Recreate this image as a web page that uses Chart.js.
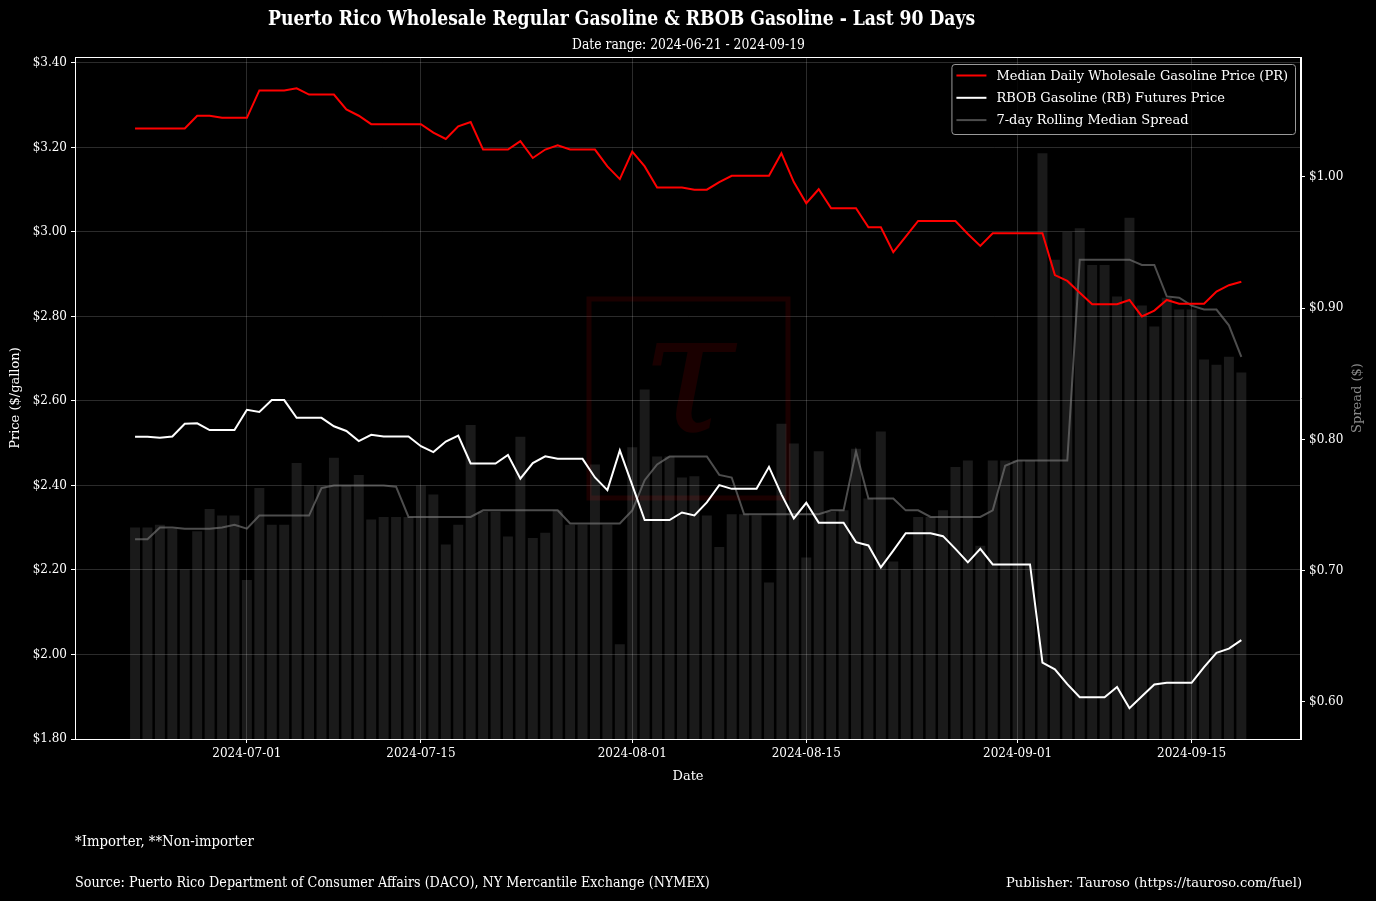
<!DOCTYPE html>
<html lang="en">
<head>
    <meta charset="UTF-8">
    <title>Puerto Rico Wholesale Gasoline vs RBOB</title>
    <script src="https://cdn.jsdelivr.net/npm/chart.js@4.4.1/dist/chart.umd.min.js"></script>
    <style>
        html, body { margin: 0; padding: 0; background: #000; }
        body { width: 1376px; height: 901px; position: relative; overflow: hidden; font-family: "DejaVu Serif", serif; color: #fff; }
        #chartBox { position: absolute; left: 0; top: 0; width: 1376px; height: 901px; }
        .txt { position: absolute; white-space: nowrap; line-height: 1; transform-origin: left center; }
        #title { font-weight: bold; font-size: 20px; }
        #subtitle { font-size: 14px; }
        .foot { font-size: 15px; }
        #publisher { font-size: 13px; }
    </style>
</head>
<body>
    <div id="chartBox"><canvas id="spreadChart" width="1376" height="901"></canvas></div>
    <div class="txt" id="title" data-x="268" data-y="18" data-w="707">Puerto Rico Wholesale Regular Gasoline &amp; RBOB Gasoline - Last 90 Days</div>
    <div class="txt" id="subtitle" data-x="572" data-y="44" data-w="233">Date range: 2024-06-21 - 2024-09-19</div>
    <div class="txt foot" data-x="75" data-y="841" data-w="179">*Importer, **Non-importer</div>
    <div class="txt foot" data-x="75" data-y="882" data-w="635">Source: Puerto Rico Department of Consumer Affairs (DACO), NY Mercantile Exchange (NYMEX)</div>
    <div class="txt" id="publisher" data-x="1006" data-y="882" data-w="296">Publisher: Tauroso (https://tauroso.com/fuel)</div>

    <script>
        // first day shown and number of daily points
        const firstDate = "2024-06-22";
        const dayCount = 90;
        const xTickDates = ["2024-07-01", "2024-07-15", "2024-08-01", "2024-08-15", "2024-09-01", "2024-09-15"];
        const priceTicks = [1.8, 2.0, 2.2, 2.4, 2.6, 2.8, 3.0, 3.2, 3.4];
        const spreadTicks = [0.6, 0.7, 0.8, 0.9, 1.0];

        // Median daily wholesale price, PR ($/gal)
        const prPrice = [
            3.245, 3.245, 3.245, 3.245, 3.245, 3.275, 3.275, 3.270, 3.270, 3.270,
            3.335, 3.335, 3.335, 3.340, 3.325, 3.325, 3.325, 3.290, 3.275, 3.255,
            3.255, 3.255, 3.255, 3.255, 3.235, 3.220, 3.250, 3.260, 3.195, 3.195,
            3.195, 3.215, 3.175, 3.195, 3.205, 3.195, 3.195, 3.195, 3.155, 3.125,
            3.190, 3.155, 3.105, 3.105, 3.105, 3.100, 3.100, 3.118, 3.133, 3.133,
            3.133, 3.133, 3.186, 3.118, 3.068, 3.101, 3.056, 3.056, 3.056, 3.011,
            3.011, 2.952, 2.989, 3.026, 3.026, 3.026, 3.026, 2.995, 2.967, 2.997,
            2.997, 2.997, 2.997, 2.997, 2.898, 2.884, 2.856, 2.829, 2.829, 2.829,
            2.839, 2.800, 2.814, 2.839, 2.830, 2.830, 2.830, 2.859, 2.874, 2.882
        ];

        // RBOB futures ($/gal)
        const rbobPrice = [
            2.515, 2.515, 2.513, 2.516, 2.546, 2.547, 2.531, 2.531, 2.531, 2.579,
            2.574, 2.602, 2.602, 2.560, 2.560, 2.560, 2.540, 2.529, 2.505, 2.520,
            2.516, 2.516, 2.516, 2.493, 2.479, 2.504, 2.518, 2.452, 2.452, 2.452,
            2.472, 2.416, 2.453, 2.469, 2.463, 2.463, 2.463, 2.419, 2.389, 2.483,
            2.401, 2.318, 2.318, 2.318, 2.336, 2.329, 2.360, 2.401, 2.392, 2.392,
            2.392, 2.444, 2.379, 2.322, 2.359, 2.312, 2.312, 2.312, 2.266, 2.258,
            2.206, 2.246, 2.287, 2.287, 2.287, 2.280, 2.250, 2.218, 2.250, 2.213,
            2.213, 2.213, 2.213, 1.981, 1.965, 1.930, 1.899, 1.899, 1.899, 1.923,
            1.873, 1.901, 1.929, 1.933, 1.933, 1.933, 1.970, 2.004, 2.014, 2.034
        ];

        // daily spread bars ($)
        const dailySpread = [
            0.733, 0.733, 0.735, 0.732, 0.701, 0.730, 0.747, 0.742, 0.742, 0.693,
            0.763, 0.735, 0.735, 0.782, 0.765, 0.765, 0.786, 0.765, 0.773, 0.739,
            0.741, 0.741, 0.741, 0.765, 0.758, 0.720, 0.735, 0.811, 0.745, 0.745,
            0.726, 0.802, 0.725, 0.729, 0.746, 0.735, 0.735, 0.781, 0.735, 0.644,
            0.794, 0.838, 0.787, 0.787, 0.771, 0.772, 0.742, 0.718, 0.743, 0.743,
            0.742, 0.691, 0.812, 0.797, 0.710, 0.791, 0.745, 0.746, 0.793, 0.755,
            0.806, 0.707, 0.701, 0.741, 0.741, 0.746, 0.779, 0.784, 0.719, 0.784,
            0.784, 0.784, 0.784, 1.018, 0.937, 0.958, 0.961, 0.933, 0.933, 0.909,
            0.969, 0.902, 0.886, 0.908, 0.899, 0.899, 0.861, 0.857, 0.863, 0.851
        ];

        // 7-day rolling median spread ($)
        const rollingSpread = [
            0.724, 0.724, 0.733, 0.733, 0.732, 0.732, 0.732, 0.733, 0.735, 0.732,
            0.742, 0.742, 0.742, 0.742, 0.742, 0.763, 0.765, 0.765, 0.765, 0.765,
            0.765, 0.764, 0.741, 0.741, 0.741, 0.741, 0.741, 0.741, 0.746, 0.746,
            0.746, 0.746, 0.746, 0.746, 0.746, 0.736, 0.736, 0.736, 0.736, 0.736,
            0.746, 0.769, 0.781, 0.787, 0.787, 0.787, 0.787, 0.773, 0.771, 0.743,
            0.743, 0.743, 0.743, 0.743, 0.743, 0.743, 0.746, 0.746, 0.791, 0.755,
            0.755, 0.755, 0.746, 0.746, 0.741, 0.741, 0.741, 0.741, 0.741, 0.746,
            0.780, 0.784, 0.784, 0.784, 0.784, 0.784, 0.937, 0.937, 0.937, 0.937,
            0.937, 0.933, 0.933, 0.909, 0.908, 0.902, 0.899, 0.899, 0.887, 0.863
        ];

        const DAY = 86400000;
        function dayNum(s) {
            const p = s.split("-").map(Number);
            return Date.UTC(p[0], p[1] - 1, p[2]) / DAY;
        }
        function dayLabel(n) {
            return new Date(Math.round(n) * DAY).toISOString().slice(0, 10);
        }

        const day0 = dayNum(firstDate);
        const xs = [];
        for (let i = 0; i < dayCount; i++) xs.push(day0 + i);
        const pts = arr => arr.map((v, i) => ({ x: xs[i], y: v }));

        const gridColor = "rgba(255,255,255,0.17)";
        const fontFamily = "'DejaVu Serif', serif";

        // frame, watermark, right axis title and legend drawn on canvas
        const decor = {
            id: "decor",
            beforeDatasetsDraw(chart) {
                const { ctx, chartArea: a } = chart;
                const cx = (a.left + a.right) / 2, cy = (a.top + a.bottom) / 2;
                ctx.save();
                ctx.strokeStyle = "rgba(255,0,0,0.1)";
                ctx.lineWidth = 5;
                ctx.strokeRect(cx - 99, cy - 99, 199, 199);
                ctx.fillStyle = "rgba(255,0,0,0.1)";
                ctx.font = "italic 170px 'DejaVu Serif', serif";
                ctx.textAlign = "center";
                ctx.textBaseline = "middle";
                ctx.fillText("\u03C4", cx, cy - 10);
                ctx.restore();
            },
            afterDraw(chart) {
                const { ctx, chartArea: a } = chart;
                ctx.save();
                ctx.strokeStyle = "#fff";
                ctx.lineWidth = 1;
                ctx.strokeRect(a.left + 0.5, a.top + 0.5, a.right - a.left - 1, a.bottom - a.top);

                // right axis title, reading upward like the left one
                ctx.save();
                ctx.translate(a.right + 57, (a.top + a.bottom) / 2);
                ctx.rotate(-Math.PI / 2);
                ctx.fillStyle = "#8a8a8a";
                ctx.font = "13px " + fontFamily;
                ctx.textAlign = "center";
                ctx.textBaseline = "middle";
                ctx.fillText("Spread ($)", 0, 0);
                ctx.restore();

                // legend
                const items = chart.data.datasets.filter(d => d.type === "line");
                ctx.font = "13px " + fontFamily;
                const textW = Math.max(...items.map(d => ctx.measureText(d.label).width));
                const w = textW + 52, h = 70;
                const x = a.right - 6 - w, y = a.top + 7;
                ctx.beginPath();
                ctx.roundRect(x + 0.5, y + 0.5, w, h, 3);
                ctx.fillStyle = "rgba(0,0,0,0.8)";
                ctx.fill();
                ctx.strokeStyle = "#9a9a9a";
                ctx.stroke();
                items.forEach((d, k) => {
                    const ly = y + 11.5 + k * 22.3;
                    ctx.strokeStyle = d.borderColor;
                    ctx.lineWidth = 2;
                    ctx.beginPath();
                    ctx.moveTo(x + 5, ly);
                    ctx.lineTo(x + 35, ly);
                    ctx.stroke();
                    ctx.fillStyle = "#fff";
                    ctx.textAlign = "left";
                    ctx.textBaseline = "middle";
                    ctx.fillText(d.label, x + 45, ly + 1);
                });
                ctx.restore();
            }
        };

        new Chart(document.getElementById("spreadChart"), {
            type: "bar",
            data: {
                datasets: [
                    {
                        type: "line",
                        label: "Median Daily Wholesale Gasoline Price (PR)",
                        data: pts(prPrice),
                        yAxisID: "y",
                        borderColor: "#ff0000",
                        borderWidth: 2,
                        pointRadius: 0,
                        tension: 0,
                        order: 1
                    },
                    {
                        type: "line",
                        label: "RBOB Gasoline (RB) Futures Price",
                        data: pts(rbobPrice),
                        yAxisID: "y",
                        borderColor: "#ffffff",
                        borderWidth: 2,
                        pointRadius: 0,
                        tension: 0,
                        order: 2
                    },
                    {
                        type: "line",
                        label: "7-day Rolling Median Spread",
                        data: pts(rollingSpread),
                        yAxisID: "y1",
                        borderColor: "rgba(128,128,128,0.6)",
                        borderWidth: 2,
                        pointRadius: 0,
                        tension: 0,
                        order: 3
                    },
                    {
                        type: "bar",
                        label: "Daily Spread",
                        data: pts(dailySpread),
                        yAxisID: "y1",
                        backgroundColor: "rgba(255,255,255,0.1)",
                        borderWidth: 0,
                        barPercentage: 0.8,
                        categoryPercentage: 1.0,
                        order: 4
                    }
                ]
            },
            options: {
                responsive: false,
                animation: false,
                devicePixelRatio: 1,
                layout: { padding: { top: 57, bottom: 111, left: 0, right: 0 } },
                plugins: {
                    legend: { display: false },
                    tooltip: { enabled: false }
                },
                scales: {
                    x: {
                        type: "linear",
                        offset: false,
                        min: day0 - 4.83,
                        max: day0 + 93.8,
                        afterBuildTicks: s => { s.ticks = xTickDates.map(d => ({ value: dayNum(d) })); },
                        afterFit: s => { s.height = 51; },
                        ticks: {
                            color: "#fff",
                            font: { family: fontFamily, size: 12 },
                            padding: 4,
                            maxRotation: 0,
                            autoSkip: false,
                            callback: v => dayLabel(v)
                        },
                        grid: { offset: false, color: gridColor, tickColor: "#fff", tickLength: 4, lineWidth: 1 },
                        border: { color: "#fff" },
                        title: { display: true, text: "Date", color: "#fff", font: { family: fontFamily, size: 13 }, padding: { top: 0, bottom: 6 } }
                    },
                    y: {
                        position: "left",
                        min: 1.8,
                        max: 3.414,
                        afterBuildTicks: s => { s.ticks = priceTicks.map(v => ({ value: v })); },
                        afterFit: s => { s.width = 75; },
                        ticks: {
                            color: "#fff",
                            font: { family: fontFamily, size: 12 },
                            padding: 4,
                            callback: v => "$" + v.toFixed(2)
                        },
                        grid: { color: gridColor, tickColor: "#fff", tickLength: 4 },
                        border: { color: "#fff" },
                        title: { display: true, text: "Price ($/gallon)", color: "#fff", font: { family: fontFamily, size: 13 }, padding: { top: 8, bottom: 0 } }
                    },
                    y1: {
                        position: "right",
                        min: 0.5718,
                        max: 1.0914,
                        afterBuildTicks: s => { s.ticks = spreadTicks.map(v => ({ value: v })); },
                        afterFit: s => { s.width = 75; },
                        ticks: {
                            color: "#fff",
                            font: { family: fontFamily, size: 12 },
                            padding: 4,
                            callback: v => "$" + v.toFixed(2)
                        },
                        grid: { drawOnChartArea: false, tickColor: "#fff", tickLength: 4 },
                        border: { color: "#fff" }
                    }
                }
            },
            plugins: [decor]
        });

        // fit the overlay texts to their widths in the picture
        document.querySelectorAll(".txt").forEach(el => {
            const natural = el.getBoundingClientRect().width;
            const target = Number(el.dataset.w);
            el.style.left = el.dataset.x + "px";
            el.style.top = (Number(el.dataset.y) - el.getBoundingClientRect().height / 2) + "px";
            el.style.transform = "scaleX(" + (target / natural).toFixed(3) + ")";
        });
    </script>
</body>
</html>
